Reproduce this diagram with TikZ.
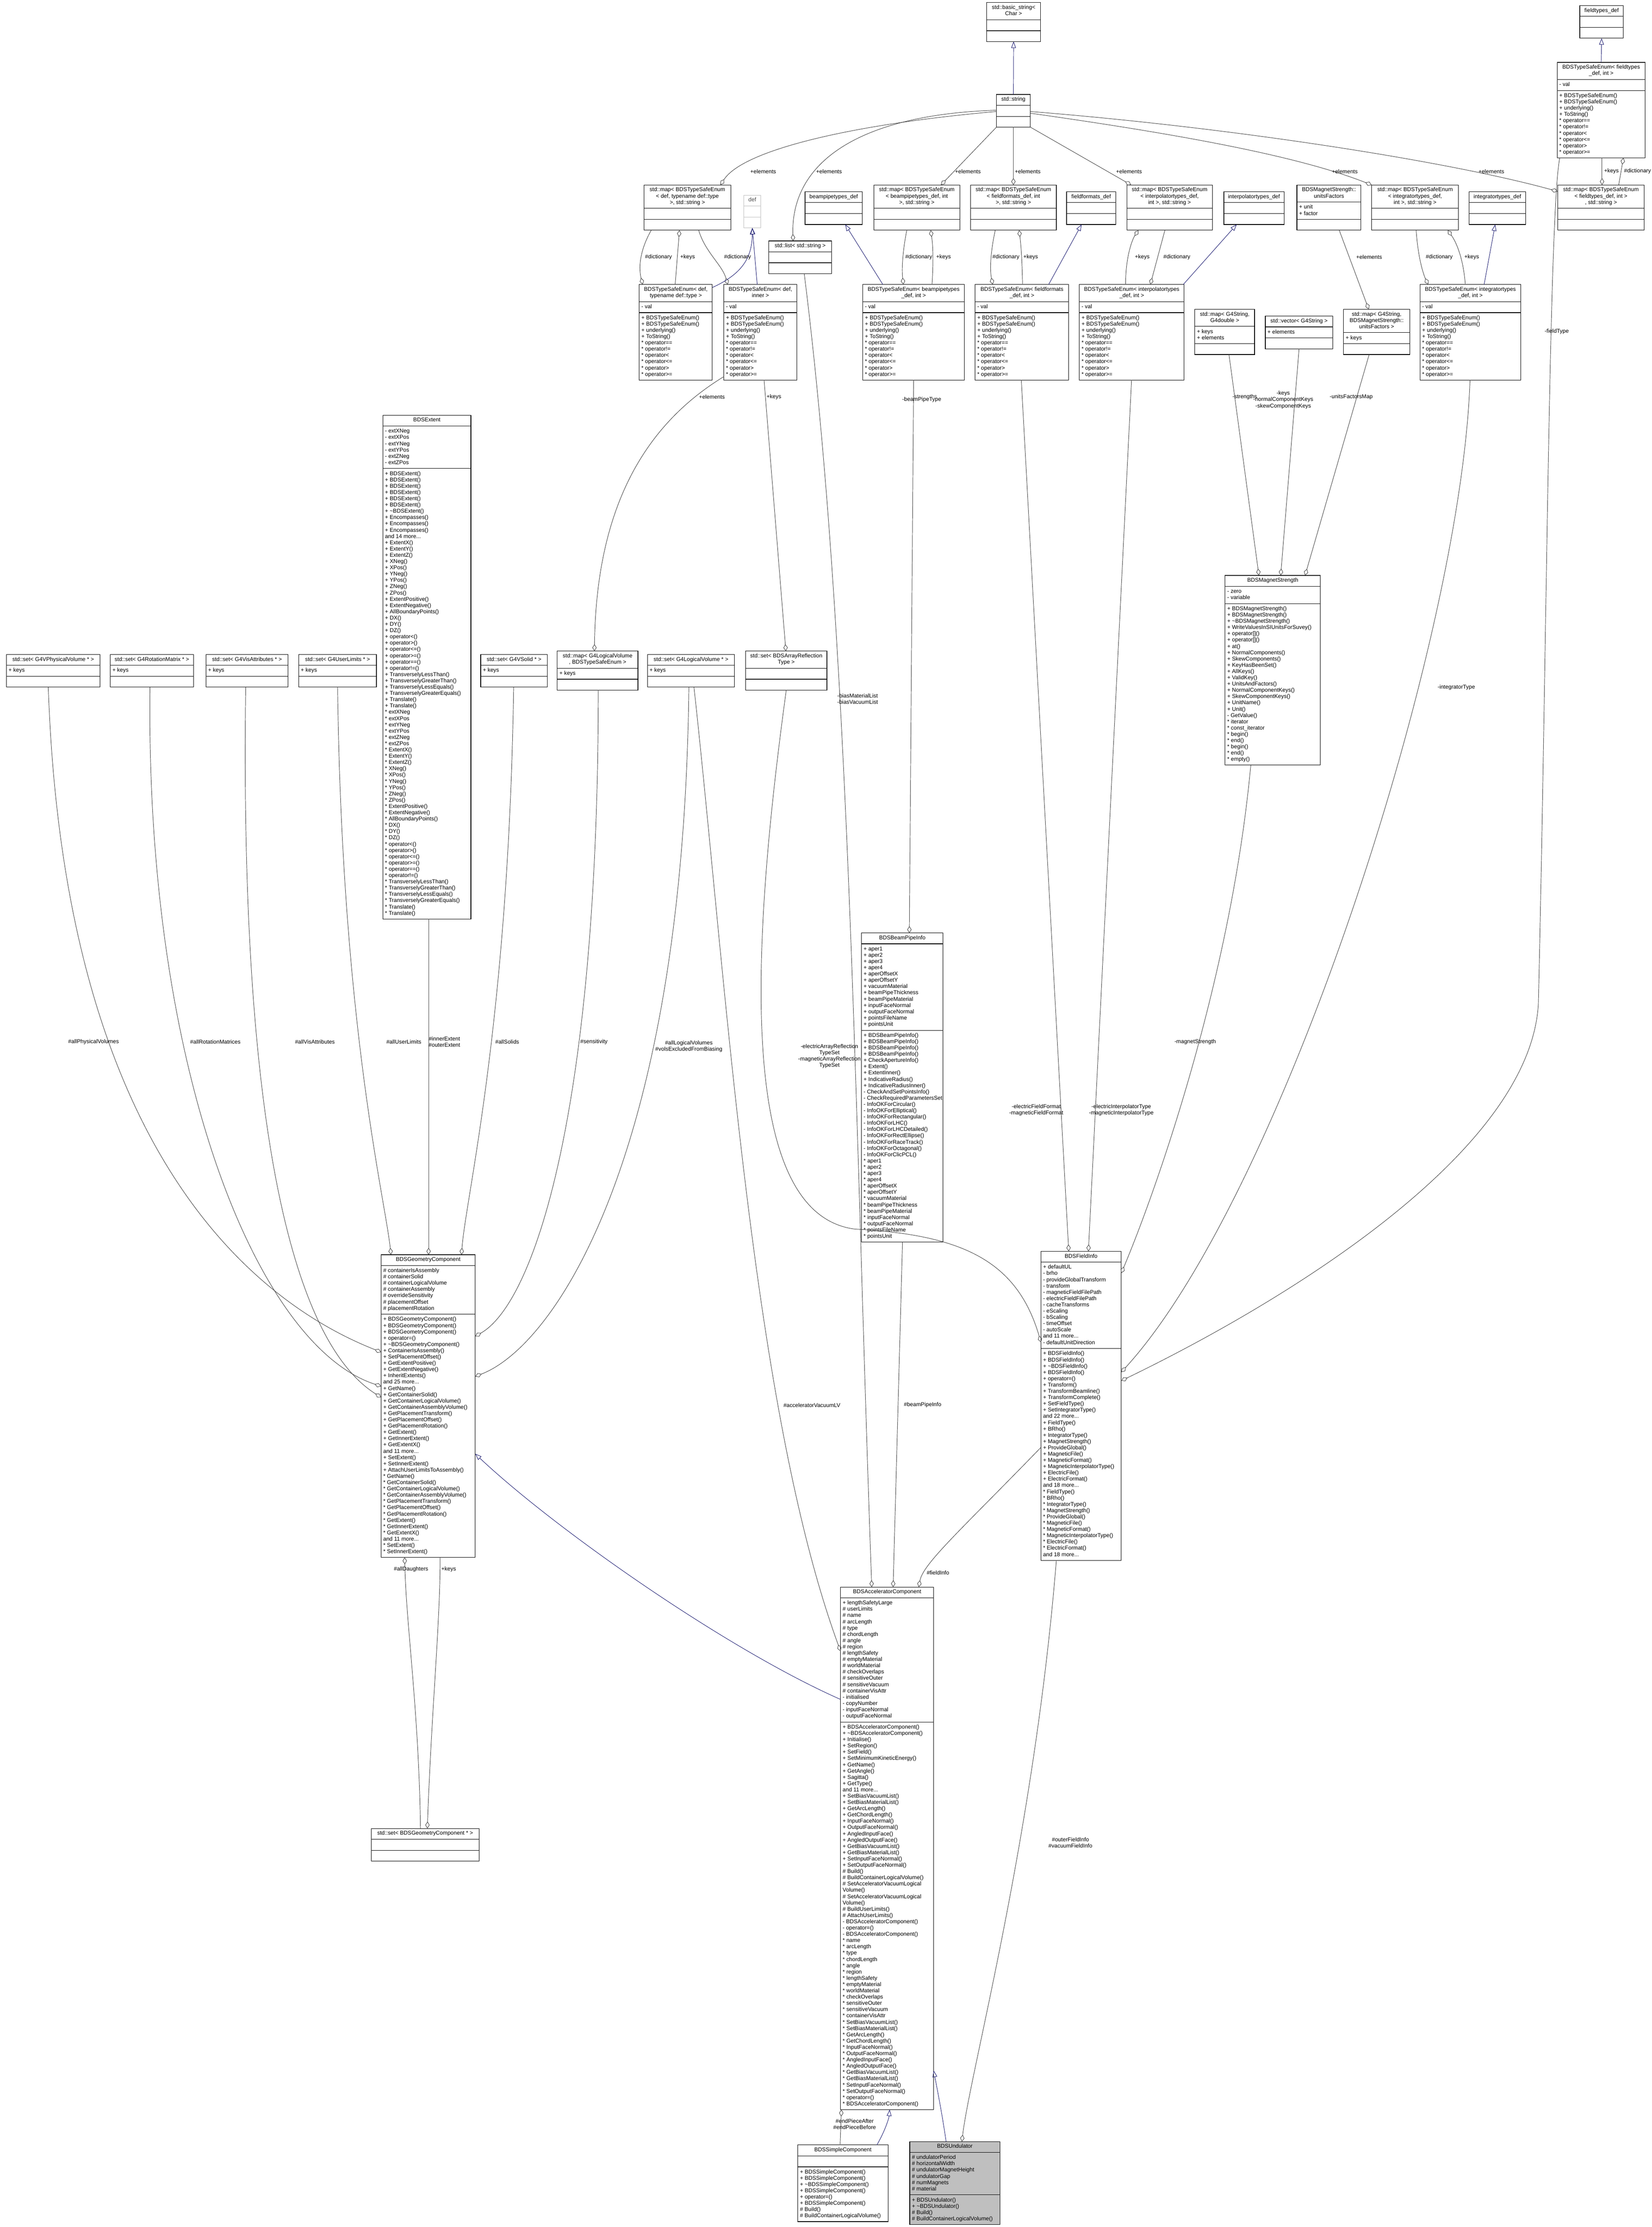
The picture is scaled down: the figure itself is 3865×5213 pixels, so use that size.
\documentclass[tikz,border=0pt]{standalone}
\usepackage{fontspec}
\setmainfont{Liberation Sans}
\usetikzlibrary{arrows.meta}
\definecolor{edgegray}{HTML}{404040}
\definecolor{inhblue}{HTML}{191970}
\definecolor{undfill}{HTML}{BFBFBF}
\definecolor{defgray}{HTML}{BFBFBF}
\newcommand\cf{\fontsize{13}{14.7}\selectfont}
\newcommand\tl{\textasciitilde}
\newcommand\ccls[5][black]{\vbox{\hsize=#2pt\parindent=0pt\parskip=0pt\cf
  \vskip5pt{\centering\begin{tabular}[t]{@{}c@{}}#3\end{tabular}\par}%
  \vskip5pt{\color{#1}\hrule height 1.2pt}\vskip5pt
  {\leftskip=5pt\rightskip=0pt plus 1fil\noindent\begin{tabular}[t]{@{}l@{}}#4\end{tabular}\par}%
  \vskip5pt{\color{#1}\hrule height 1.2pt}\vskip5pt
  {\leftskip=5pt\rightskip=0pt plus 1fil\noindent\begin{tabular}[t]{@{}l@{}}#5\end{tabular}\par}%
  \vskip5pt}}
\newcommand\enumops{+ BDSTypeSafeEnum()\\+ BDSTypeSafeEnum()\\+ underlying()\\+ ToString()\\{*} operator==\\{*} operator!=\\{*} operator<\\{*} operator<=\\{*} operator>\\{*} operator>=}
\begin{document}
\begin{tikzpicture}[x=1pt,y=-1pt,
  cls/.style={draw=black, line width=1.2pt, fill=white, inner sep=0pt, outer sep=0pt, anchor=north west},
  agg/.style={draw=edgegray, line width=1pt, -{Diamond[open,length=16pt,width=10pt,line width=1pt]}},
  inh/.style={draw=inhblue, line width=1pt, -{Triangle[open,length=15pt,width=11pt,line width=1pt]}},
  lbl/.style={font=\cf, align=center, inner sep=0pt}]
\fill[white] (0,0) rectangle (3865,5213);
\useasboundingbox (0,0) rectangle (3865,5213);

% ---------- top row ----------
\node[cls] (basicstr) at (2309,6) {\ccls{126}{std::basic\_string<\\Char >}{\mbox{}}{\mbox{}}};
\node[cls] (string) at (2332,221) {\ccls{79}{std::string}{\mbox{}}{\mbox{}}};
\node[cls] (ftdef) at (3697,13) {\ccls{102}{fieldtypes\_def}{\mbox{}}{\mbox{}}};
\node[cls] (enumFT) at (3644,146) {\ccls{206}{BDSTypeSafeEnum< fieldtypes\\\_def, int >}{- val}{\enumops}};
\node[cls] (mapFT) at (3645,433) {\ccls{203}{std::map< BDSTypeSafeEnum\\< fieldtypes\_def, int >\\, std::string >}{\mbox{}}{\mbox{}}};
\node[cls] (mapDef) at (1507,433) {\ccls{203}{std::map< BDSTypeSafeEnum\\< def, typename def::type\\ >, std::string >}{\mbox{}}{\mbox{}}};
\node[cls, draw=defgray, text=black!70] (def) at (1741,457) {\ccls[defgray]{39}{def}{\mbox{}}{\mbox{}}};
\node[cls] (list) at (1799,564) {\ccls{147}{std::list< std::string >}{\mbox{}}{\mbox{}}};
\node[cls] (bptdef) at (1884,449) {\ccls{134}{beampipetypes\_def}{\mbox{}}{\mbox{}}};
\node[cls] (mapBPT) at (2045,433) {\ccls{201}{std::map< BDSTypeSafeEnum\\< beampipetypes\_def, int\\ >, std::string >}{\mbox{}}{\mbox{}}};
\node[cls] (mapFF) at (2271,433) {\ccls{201}{std::map< BDSTypeSafeEnum\\< fieldformats\_def, int\\ >, std::string >}{\mbox{}}{\mbox{}}};
\node[cls] (ffdef) at (2496,449) {\ccls{115}{fieldformats\_def}{\mbox{}}{\mbox{}}};
\node[cls] (mapIT) at (2637,433) {\ccls{200}{std::map< BDSTypeSafeEnum\\< interpolatortypes\_def,\\ int >, std::string >}{\mbox{}}{\mbox{}}};
\node[cls] (itdef) at (2864,449) {\ccls{141}{interpolatortypes\_def}{\mbox{}}{\mbox{}}};
\node[cls] (unitsF) at (3035,433) {\ccls{150}{BDSMagnetStrength::\\unitsFactors}{+ unit\\+ factor}{\mbox{}}};
\node[cls] (mapInt) at (3210,433) {\ccls{203}{std::map< BDSTypeSafeEnum\\< integratortypes\_def,\\ int >, std::string >}{\mbox{}}{\mbox{}}};
\node[cls] (intdef) at (3438,449) {\ccls{132}{integratortypes\_def}{\mbox{}}{\mbox{}}};

% ---------- second row ----------
\node[cls] (enumDT) at (1496,666) {\ccls{171}{BDSTypeSafeEnum< def,\\ typename def::type >}{- val}{\enumops}};
\node[cls] (enumDI) at (1694,666) {\ccls{171}{BDSTypeSafeEnum< def,\\ inner >}{- val}{\enumops}};
\node[cls] (enumBPT) at (2019,666) {\ccls{238}{BDSTypeSafeEnum< beampipetypes\\\_def, int >}{- val}{\enumops}};
\node[cls] (enumFF) at (2282,666) {\ccls{219}{BDSTypeSafeEnum< fieldformats\\\_def, int >}{- val}{\enumops}};
\node[cls] (enumIT) at (2526,666) {\ccls{245}{BDSTypeSafeEnum< interpolatortypes\\\_def, int >}{- val}{\enumops}};
\node[cls] (mapG4d) at (2796,724) {\ccls{140}{std::map< G4String,\\ G4double >}{+ keys\\+ elements}{\mbox{}}};
\node[cls] (vecG4) at (2961,740) {\ccls{158}{std::vector< G4String >}{+ elements}{\mbox{}}};
\node[cls] (mapUF) at (3144,724) {\ccls{155}{std::map< G4String,\\ BDSMagnetStrength::\\unitsFactors >}{+ keys}{\mbox{}}};
\node[cls] (enumInt) at (3323,666) {\ccls{236}{BDSTypeSafeEnum< integratortypes\\\_def, int >}{- val}{\enumops}};

% ---------- third row ----------
\node[cls] (setPV) at (15,1532) {\ccls{219}{std::set< G4VPhysicalVolume * >}{+ keys}{\mbox{}}};
\node[cls] (setRM) at (258,1532) {\ccls{195}{std::set< G4RotationMatrix * >}{+ keys}{\mbox{}}};
\node[cls] (setVA) at (482,1532) {\ccls{192}{std::set< G4VisAttributes * >}{+ keys}{\mbox{}}};
\node[cls] (setUL) at (699,1532) {\ccls{182}{std::set< G4UserLimits * >}{+ keys}{\mbox{}}};
\node[cls] (extent) at (896,972) {\ccls{206}{BDSExtent}{- extXNeg\\- extXPos\\- extYNeg\\- extYPos\\- extZNeg\\- extZPos}{+ BDSExtent()\\+ BDSExtent()\\+ BDSExtent()\\+ BDSExtent()\\+ BDSExtent()\\+ BDSExtent()\\+ \tl BDSExtent()\\+ Encompasses()\\+ Encompasses()\\+ Encompasses()\\and 14 more...\\+ ExtentX()\\+ ExtentY()\\+ ExtentZ()\\+ XNeg()\\+ XPos()\\+ YNeg()\\+ YPos()\\+ ZNeg()\\+ ZPos()\\+ ExtentPositive()\\+ ExtentNegative()\\+ AllBoundaryPoints()\\+ DX()\\+ DY()\\+ DZ()\\+ operator<()\\+ operator>()\\+ operator<=()\\+ operator>=()\\+ operator==()\\+ operator!=()\\+ TransverselyLessThan()\\+ TransverselyGreaterThan()\\+ TransverselyLessEquals()\\+ TransverselyGreaterEquals()\\+ Translate()\\+ Translate()\\{*} extXNeg\\{*} extXPos\\{*} extYNeg\\{*} extYPos\\{*} extZNeg\\{*} extZPos\\{*} ExtentX()\\{*} ExtentY()\\{*} ExtentZ()\\{*} XNeg()\\{*} XPos()\\{*} YNeg()\\{*} YPos()\\{*} ZNeg()\\{*} ZPos()\\{*} ExtentPositive()\\{*} ExtentNegative()\\{*} AllBoundaryPoints()\\{*} DX()\\{*} DY()\\{*} DZ()\\{*} operator<()\\{*} operator>()\\{*} operator<=()\\{*} operator>=()\\{*} operator==()\\{*} operator!=()\\{*} TransverselyLessThan()\\{*} TransverselyGreaterThan()\\{*} TransverselyLessEquals()\\{*} TransverselyGreaterEquals()\\{*} Translate()\\{*} Translate()}};
\node[cls] (setSolid) at (1125,1532) {\ccls{156}{std::set< G4VSolid * >}{+ keys}{\mbox{}}};
\node[cls] (mapLV) at (1304,1524) {\ccls{189}{std::map< G4LogicalVolume\\ *, BDSTypeSafeEnum >}{+ keys}{\mbox{}}};
\node[cls] (setLV) at (1515,1532) {\ccls{204}{std::set< G4LogicalVolume * >}{+ keys}{\mbox{}}};
\node[cls] (setART) at (1745,1524) {\ccls{190}{std::set< BDSArrayReflection\\Type >}{\mbox{}}{\mbox{}}};

\node[cls] (magStr) at (2867,1347) {\ccls{223}{BDSMagnetStrength}{- zero\\- variable}{+ BDSMagnetStrength()\\+ BDSMagnetStrength()\\+ \tl BDSMagnetStrength()\\+ WriteValuesInSIUnitsForSuvey()\\+ operator[]()\\+ operator[]()\\+ at()\\+ NormalComponents()\\+ SkewComponents()\\+ KeyHasBeenSet()\\+ AllKeys()\\+ ValidKey()\\+ UnitsAndFactors()\\+ NormalComponentKeys()\\+ SkewComponentKeys()\\+ UnitName()\\+ Unit()\\- GetValue()\\{*} iterator\\{*} const\_iterator\\{*} begin()\\{*} end()\\{*} begin()\\{*} end()\\{*} empty()}};

\node[cls] (beamPipe) at (2016,2184) {\ccls{191}{BDSBeamPipeInfo}{+ aper1\\+ aper2\\+ aper3\\+ aper4\\+ aperOffsetX\\+ aperOffsetY\\+ vacuumMaterial\\+ beamPipeThickness\\+ beamPipeMaterial\\+ inputFaceNormal\\+ outputFaceNormal\\+ pointsFileName\\+ pointsUnit}{+ BDSBeamPipeInfo()\\+ BDSBeamPipeInfo()\\+ BDSBeamPipeInfo()\\+ BDSBeamPipeInfo()\\+ CheckApertureInfo()\\+ Extent()\\+ ExtentInner()\\+ IndicativeRadius()\\+ IndicativeRadiusInner()\\- CheckAndSetPointsInfo()\\- CheckRequiredParametersSet\\- InfoOKForCircular()\\- InfoOKForElliptical()\\- InfoOKForRectangular()\\- InfoOKForLHC()\\- InfoOKForLHCDetailed()\\- InfoOKForRectEllipse()\\- InfoOKForRaceTrack()\\- InfoOKForOctagonal()\\- InfoOKForClicPCL()\\{*} aper1\\{*} aper2\\{*} aper3\\{*} aper4\\{*} aperOffsetX\\{*} aperOffsetY\\{*} vacuumMaterial\\{*} beamPipeThickness\\{*} beamPipeMaterial\\{*} inputFaceNormal\\{*} outputFaceNormal\\{*} pointsFileName\\{*} pointsUnit}};

\node[cls] (geomComp) at (892,2937) {\ccls{220}{BDSGeometryComponent}{\# containerIsAssembly\\\# containerSolid\\\# containerLogicalVolume\\\# containerAssembly\\\# overrideSensitivity\\\# placementOffset\\\# placementRotation}{+ BDSGeometryComponent()\\+ BDSGeometryComponent()\\+ BDSGeometryComponent()\\+ operator=()\\+ \tl BDSGeometryComponent()\\+ ContainerIsAssembly()\\+ SetPlacementOffset()\\+ GetExtentPositive()\\+ GetExtentNegative()\\+ InheritExtents()\\and 25 more...\\+ GetName()\\+ GetContainerSolid()\\+ GetContainerLogicalVolume()\\+ GetContainerAssemblyVolume()\\+ GetPlacementTransform()\\+ GetPlacementOffset()\\+ GetPlacementRotation()\\+ GetExtent()\\+ GetInnerExtent()\\+ GetExtentX()\\and 11 more...\\+ SetExtent()\\+ SetInnerExtent()\\+ AttachUserLimitsToAssembly()\\{*} GetName()\\{*} GetContainerSolid()\\{*} GetContainerLogicalVolume()\\{*} GetContainerAssemblyVolume()\\{*} GetPlacementTransform()\\{*} GetPlacementOffset()\\{*} GetPlacementRotation()\\{*} GetExtent()\\{*} GetInnerExtent()\\{*} GetExtentX()\\and 11 more...\\{*} SetExtent()\\{*} SetInnerExtent()}};

\node[cls] (fieldInfo) at (2436,2929) {\ccls{188}{BDSFieldInfo}{+ defaultUL\\- brho\\- provideGlobalTransform\\- transform\\- magneticFieldFilePath\\- electricFieldFilePath\\- cacheTransforms\\- eScaling\\- bScaling\\- timeOffset\\- autoScale\\and 11 more...\\- defaultUnitDirection}{+ BDSFieldInfo()\\+ BDSFieldInfo()\\+ \tl BDSFieldInfo()\\+ BDSFieldInfo()\\+ operator=()\\+ Transform()\\+ TransformBeamline()\\+ TransformComplete()\\+ SetFieldType()\\+ SetIntegratorType()\\and 22 more...\\+ FieldType()\\+ BRho()\\+ IntegratorType()\\+ MagnetStrength()\\+ ProvideGlobal()\\+ MagneticFile()\\+ MagneticFormat()\\+ MagneticInterpolatorType()\\+ ElectricFile()\\+ ElectricFormat()\\and 18 more...\\{*} FieldType()\\{*} BRho()\\{*} IntegratorType()\\{*} MagnetStrength()\\{*} ProvideGlobal()\\{*} MagneticFile()\\{*} MagneticFormat()\\{*} MagneticInterpolatorType()\\{*} ElectricFile()\\{*} ElectricFormat()\\and 18 more...}};

\node[cls] (accComp) at (1967,3715) {\ccls{218}{BDSAcceleratorComponent}{+ lengthSafetyLarge\\\# userLimits\\\# name\\\# arcLength\\\# type\\\# chordLength\\\# angle\\\# region\\\# lengthSafety\\\# emptyMaterial\\\# worldMaterial\\\# checkOverlaps\\\# sensitiveOuter\\\# sensitiveVacuum\\\# containerVisAttr\\- initialised\\- copyNumber\\- inputFaceNormal\\- outputFaceNormal}{+ BDSAcceleratorComponent()\\+ \tl BDSAcceleratorComponent()\\+ Initialise()\\+ SetRegion()\\+ SetField()\\+ SetMinimumKineticEnergy()\\+ GetName()\\+ GetAngle()\\+ Sagitta()\\+ GetType()\\and 11 more...\\+ SetBiasVacuumList()\\+ SetBiasMaterialList()\\+ GetArcLength()\\+ GetChordLength()\\+ InputFaceNormal()\\+ OutputFaceNormal()\\+ AngledInputFace()\\+ AngledOutputFace()\\+ GetBiasVacuumList()\\+ GetBiasMaterialList()\\+ SetInputFaceNormal()\\+ SetOutputFaceNormal()\\\# Build()\\\# BuildContainerLogicalVolume()\\\# SetAcceleratorVacuumLogical\\Volume()\\\# SetAcceleratorVacuumLogical\\Volume()\\\# BuildUserLimits()\\\# AttachUserLimits()\\- BDSAcceleratorComponent()\\- operator=()\\- BDSAcceleratorComponent()\\{*} name\\{*} arcLength\\{*} type\\{*} chordLength\\{*} angle\\{*} region\\{*} lengthSafety\\{*} emptyMaterial\\{*} worldMaterial\\{*} checkOverlaps\\{*} sensitiveOuter\\{*} sensitiveVacuum\\{*} containerVisAttr\\{*} SetBiasVacuumList()\\{*} SetBiasMaterialList()\\{*} GetArcLength()\\{*} GetChordLength()\\{*} InputFaceNormal()\\{*} OutputFaceNormal()\\{*} AngledInputFace()\\{*} AngledOutputFace()\\{*} GetBiasVacuumList()\\{*} GetBiasMaterialList()\\{*} SetInputFaceNormal()\\{*} SetOutputFaceNormal()\\{*} operator=()\\{*} BDSAcceleratorComponent()}};

\node[cls] (setGC) at (869,4280) {\ccls{252}{std::set< BDSGeometryComponent * >}{\mbox{}}{\mbox{}}};

\node[cls] (simpleComp) at (1867,5021) {\ccls{211}{BDSSimpleComponent}{\mbox{}}{+ BDSSimpleComponent()\\+ BDSSimpleComponent()\\+ \tl BDSSimpleComponent()\\+ BDSSimpleComponent()\\+ operator=()\\+ BDSSimpleComponent()\\\# Build()\\\# BuildContainerLogicalVolume()}};
\node[cls, fill=undfill] (undulator) at (2129,5013) {\ccls{211}{BDSUndulator}{\# undulatorPeriod\\\# horizontalWidth\\\# undulatorMagnetHeight\\\# undulatorGap\\\# numMagnets\\\# material}{+ BDSUndulator()\\+ \tl BDSUndulator()\\\# Build()\\\# BuildContainerLogicalVolume()}};

% ---------- edges: top ----------
\draw[inh] (string.north) -- (basicstr.south);
\draw[inh] (enumFT.north) -- (ftdef.south);
\draw[agg] ([yshift=-40pt]string.north west) .. controls (2000,290) and (1740,350) .. ([xshift=179pt]mapDef.north west);
\draw[agg] ([yshift=-37pt]string.north west) .. controls (2010,268) and (1850,380) .. ([xshift=57pt]list.north west);
\draw[agg] (string.south west) -- ([xshift=157pt]mapBPT.north west);
\draw[agg] (string.south) -- (mapFF.north);
\draw[agg] (string.south east) -- ([xshift=10pt]mapIT.north west);
\draw[agg] ([yshift=-44pt]string.north east) .. controls (2800,320) and (3050,370) .. (mapInt.north west);
\draw[agg] ([yshift=-40pt]string.north east) .. controls (2900,300) and (3400,380) .. ([yshift=-15pt]mapFT.north west);
\draw[agg] ([xshift=105pt]enumFT.south west) -- ([xshift=104pt]mapFT.north west);
\draw[agg] ([xshift=143pt]mapFT.north west) -- ([xshift=155pt]enumFT.south west);

\draw[agg] ([xshift=17pt]mapDef.south west) .. controls (1495,590) and (1495,630) .. ([xshift=8pt]enumDT.north west);
\draw[agg] ([xshift=84pt]enumDT.north west) -- ([xshift=83pt]mapDef.south west);
\draw[agg] ([xshift=128pt]mapDef.south west) .. controls (1650,590) and (1690,620) .. ([xshift=9pt]enumDI.north west);
\draw[inh] ([xshift=78pt]enumDI.north west) -- (def.south);
\draw[inh] ([yshift=-7pt]enumDT.north east) .. controls (1740,640) and (1760,600) .. (def.south);
\draw[inh] ([xshift=47pt]enumBPT.north west) -- ([xshift=94pt]bptdef.south west);
\draw[agg] ([xshift=77pt]mapBPT.south west) .. controls (2112,590) and (2110,630) .. ([xshift=95pt]enumBPT.north west);
\draw[agg] ([xshift=162pt]enumBPT.north west) .. controls (2184,620) and (2184,580) .. ([xshift=133pt]mapBPT.south west);
\draw[agg] ([xshift=58pt]mapFF.south west) .. controls (2318,590) and (2316,630) .. ([xshift=41pt]enumFF.north west);
\draw[agg] ([xshift=111pt]enumFF.north west) .. controls (2392,620) and (2390,580) .. ([xshift=114pt]mapFF.south west);
\draw[inh] ([xshift=172pt]enumFF.north west) -- ([xshift=35pt]ffdef.south west);
\draw[agg] ([xshift=108pt]enumIT.north west) .. controls (2634,600) and (2650,560) .. ([xshift=27pt]mapIT.south west);
\draw[agg] ([xshift=89pt]mapIT.south west) -- ([xshift=166pt]enumIT.north west);
\draw[inh] ([xshift=243pt]enumIT.north west) -- ([xshift=30pt]itdef.south west);
\draw[agg] ([xshift=99pt]unitsF.south west) -- ([xshift=59pt]mapUF.north west);
\draw[agg] ([xshift=104pt]mapInt.south west) .. controls (3318,600) and (3330,640) .. ([xshift=19pt]enumInt.north west);
\draw[agg] ([xshift=106pt]enumInt.north west) .. controls (3425,610) and (3410,570) .. ([xshift=178pt]mapInt.south west);
\draw[inh] ([xshift=150pt]enumInt.north west) -- ([xshift=61pt]intdef.south west);

\draw[agg] ([yshift=8pt]enumDI.south west) .. controls (1500,1000) and (1395,1200) .. ([xshift=87pt]mapLV.north west);
\draw[agg] ([xshift=94pt]enumDI.south west) -- ([xshift=94pt]setART.north west);

% ---------- edges: middle ----------
\draw[agg] ([xshift=83pt]list.south west) .. controls (1990,1500) and (2000,2600) .. ([xshift=73pt]accComp.north west);
\draw[agg] ([xshift=80pt]mapG4d.south west) -- ([xshift=79pt]magStr.north west);
\draw[agg] ([xshift=79pt]vecG4.south west) -- ([xshift=130pt]magStr.north west);
\draw[agg] ([xshift=60pt]mapUF.south west) -- ([xshift=187pt]magStr.north west);
\draw[agg] ([xshift=119pt]enumBPT.south west) -- ([xshift=112pt]beamPipe.north west);
\draw[agg] ([xshift=108pt]enumFF.south west) -- ([xshift=65pt]fieldInfo.north west);
\draw[agg] ([xshift=122pt]enumIT.south west) -- ([xshift=111pt]fieldInfo.north west);
\draw[agg] ([xshift=60pt]magStr.south west) .. controls (2880,2300) and (2700,2800) .. ([yshift=-51pt]fieldInfo.north east);
\draw[agg] ([xshift=117pt]enumInt.south west) .. controls (3420,1500) and (3000,2800) .. ([yshift=-283pt]fieldInfo.north east);
\draw[agg] ([xshift=6pt]enumFT.south west) .. controls (3625,500) and (3620,1500) .. (3600,2350) .. controls (3580,2700) and (3000,3050) .. ([yshift=-303pt]fieldInfo.north east);
\draw[agg] ([xshift=95pt]setART.south west) .. controls (1760,2200) and (1720,2840) .. (2000,2877) .. controls (2250,2890) and (2380,2950) .. ([yshift=-213pt]fieldInfo.north west);
\draw[agg] ([yshift=-459pt]fieldInfo.north west) .. controls (2250,3580) and (2160,3660) .. ([xshift=183pt]accComp.north west);
\draw[agg] ([xshift=96pt]beamPipe.south west) -- ([xshift=123pt]accComp.north west);
\draw[agg] ([xshift=109pt]setLV.south west) .. controls (1700,2300) and (1760,3300) .. ([yshift=-150pt]accComp.north west);
\draw[inh] ([yshift=-263pt]accComp.north west) .. controls (1700,3860) and (1300,3580) .. ([yshift=-466pt]geomComp.north east);
\draw[agg] ([xshift=36pt]fieldInfo.south west) .. controls (2420,4300) and (2270,4850) .. ([xshift=122pt]undulator.north west);
\draw[inh] ([xshift=85pt]undulator.north west) .. controls (2205,4950) and (2195,4900) .. ([yshift=-1132pt]accComp.north east);
\draw[inh] ([xshift=185pt]simpleComp.north west) .. controls (2070,4990) and (2080,4960) .. ([xshift=115pt]accComp.south west);
\draw[agg] ([xshift=99pt]simpleComp.north west) -- ([xshift=2pt]accComp.south west);

% ---------- edges: geometry component ----------
\draw[agg] ([xshift=98pt]setPV.south west) .. controls (150,2700) and (600,3050) .. ([yshift=-228pt]geomComp.north west);
\draw[agg] ([xshift=93pt]setRM.south west) .. controls (340,2500) and (600,3150) .. ([yshift=-308pt]geomComp.north west);
\draw[agg] ([xshift=93pt]setVA.south west) .. controls (560,2700) and (700,3150) .. ([yshift=-334pt]geomComp.north west);
\draw[agg] ([xshift=91pt]setUL.south west) .. controls (800,2400) and (900,2800) .. ([xshift=23pt]geomComp.north west);
\draw[agg] ([xshift=107pt]extent.south west) -- ([xshift=111pt]geomComp.north west);
\draw[agg] ([xshift=77pt]setSolid.south west) .. controls (1190,2400) and (1090,2800) .. ([xshift=188pt]geomComp.north west);
\draw[agg] ([xshift=96pt]mapLV.south west) .. controls (1400,2600) and (1250,3050) .. ([yshift=-191pt]geomComp.north east);
\draw[agg] ([xshift=97pt]setLV.south west) .. controls (1600,2700) and (1300,3150) .. ([yshift=-285pt]geomComp.north east);
\draw[agg] ([xshift=115pt]setGC.north west) .. controls (980,4000) and (950,3800) .. ([xshift=55pt]geomComp.south west);
\draw[agg] ([xshift=138pt]geomComp.south west) .. controls (1030,3800) and (1010,4000) .. ([xshift=131pt]setGC.north west);

% ---------- labels ----------
\node[lbl] (l01) at (1786,401) {+elements};
\node[lbl] (l02) at (1940,401) {+elements};
\node[lbl] (l03) at (2265,401) {+elements};
\node[lbl] (l04) at (2405,401) {+elements};
\node[lbl] (l05) at (2642,401) {+elements};
\node[lbl] (l06) at (3147,401) {+elements};
\node[lbl] (l07) at (3490,401) {+elements};
\node[lbl] (l08) at (3771,401) {+keys};
\node[lbl] (l09) at (3832,401) {\#dictionary};
\node[lbl] (l10) at (1541,602) {\#dictionary};
\node[lbl] (l11) at (1609,602) {+keys};
\node[lbl] (l12) at (1726,602) {\#dictionary};
\node[lbl] (l13) at (2150,602) {\#dictionary};
\node[lbl] (l14) at (2208,602) {+keys};
\node[lbl] (l15) at (2354,602) {\#dictionary};
\node[lbl] (l16) at (2412,602) {+keys};
\node[lbl] (l17) at (2673,602) {+keys};
\node[lbl] (l18) at (2754,602) {\#dictionary};
\node[lbl] (l19) at (3204,602) {+elements};
\node[lbl] (l20) at (3368,602) {\#dictionary};
\node[lbl] (l21) at (3444,602) {+keys};
\node[lbl] (l22) at (3643,776) {-fieldType};
\node[lbl] (l23) at (1666,929) {+elements};
\node[lbl] (l24) at (1811,929) {+keys};
\node[lbl] (l25) at (2157,936) {-beamPipeType};
\node[lbl] (l26) at (2913,929) {-strengths};
\node[lbl] (l27) at (3003,936) {-keys\\-normalComponentKeys\\-skewComponentKeys};
\node[lbl] (l28) at (3162,929) {-unitsFactorsMap};
\node[lbl] (l29) at (2007,1636) {-biasMaterialList\\-biasVacuumList};
\node[lbl] (l30) at (3408,1609) {-integratorType};
\node[lbl] (l31) at (219,2439) {\#allPhysicalVolumes};
\node[lbl] (l32) at (504,2439) {\#allRotationMatrices};
\node[lbl] (l33) at (737,2439) {\#allVisAttributes};
\node[lbl] (l34) at (945,2439) {\#allUserLimits};
\node[lbl] (l35) at (1040,2439) {\#innerExtent\\\#outerExtent};
\node[lbl] (l36) at (1187,2439) {\#allSolids};
\node[lbl] (l37) at (1390,2439) {\#sensitivity};
\node[lbl] (l38) at (1612,2449) {\#allLogicalVolumes\\\#volsExcludedFromBiasing};
\node[lbl] (l39) at (1941,2472) {-electricArrayReflection\\TypeSet\\-magneticArrayReflection\\TypeSet};
\node[lbl] (l40) at (2797,2439) {-magnetStrength};
\node[lbl] (l41) at (2425,2598) {-electricFieldFormat\\-magneticFieldFormat};
\node[lbl] (l42) at (2624,2598) {-electricInterpolatorType\\-magneticInterpolatorType};
\node[lbl] (l43) at (1900,3289) {\#acceleratorVacuumLV};
\node[lbl] (l44) at (2159,3289) {\#beamPipeInfo};
\node[lbl] (l45) at (2195,3681) {\#fieldInfo};
\node[lbl] (l46) at (2505,4313) {\#outerFieldInfo\\\#vacuumFieldInfo};
\node[lbl] (l47) at (2000,4972) {\#endPieceAfter\\\#endPieceBefore};
\node[lbl] (l48) at (962,3673) {\#allDaughters};
\node[lbl] (l49) at (1050,3673) {+keys};
\end{tikzpicture}
\end{document}
